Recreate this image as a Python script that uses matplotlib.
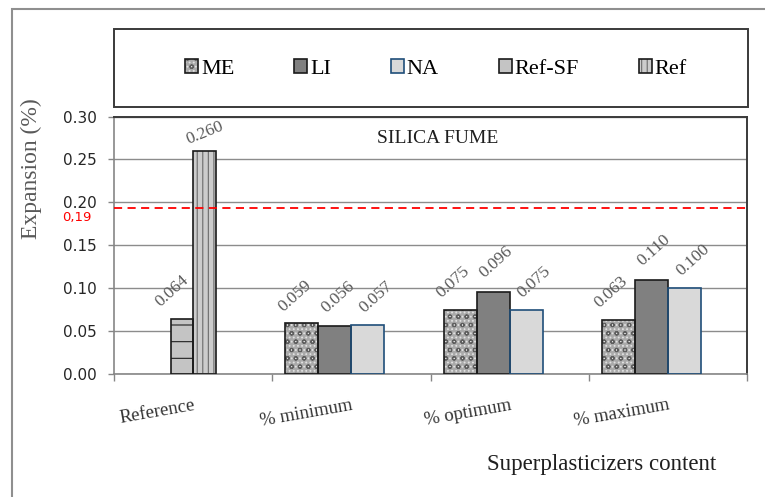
import matplotlib.pyplot as plt
from matplotlib.patches import Rectangle, Patch
from matplotlib.transforms import blended_transform_factory

categories = ['Reference', '% minimum', '% optimum', '% maximum']
ref_sf = [0.064]
ref = [0.260]
me = [0.059, 0.075, 0.063]
li = [0.056, 0.096, 0.110]
na = [0.057, 0.075, 0.100]
limit = 0.193
limit_label = '0,19'

plt.rcParams['hatch.linewidth'] = 0.8
serif = 'Liberation Serif'

fig = plt.figure(figsize=(7.65, 4.97), dpi=100)
ax = fig.add_axes([0.149, 0.2475, 0.8275, 0.518])

# outer frame and legend box (figure pixels)
fig.add_artist(Rectangle((12 / 765, -0.1), 1.2, 1.1 - 9 / 497, transform=fig.transFigure,
                         fill=False, edgecolor='#8f8f8f', lw=1.5, clip_on=False))
fig.add_artist(Rectangle((114 / 765, 1 - 107 / 497), 634 / 765, 78.5 / 497,
                         transform=fig.transFigure, fill=False, edgecolor='#3a3a3a', lw=1.4))

w3 = 0.2085
w2 = 0.14
styles = {
    'ME': dict(fc='#a9a9a9', hatch='....', hc='#e2e2e2', hatch2='oo', hc2='#5e5e5e', ec='#1a1a1a'),
    'LI': dict(fc='#808080', hatch=None, hc='#808080', ec='#1a1a1a'),
    'NA': dict(fc='#d9d9d9', hatch=None, hc='#d9d9d9', ec='#1f4e79'),
    'Ref-SF': dict(fc='#c4c4c4', hatch='-', hc='#202020', ec='#1a1a1a'),
    'Ref': dict(fc='#cccccc', hatch='|||', hc='#6a6a6a', ec='#1a1a1a'),
}

series = [
    ('Ref-SF', [0], ref_sf, -0.07, w2, -7, 20, 42),
    ('Ref', [0], ref, 0.072, w2, 0, 13, 22),
    ('ME', [1, 2, 3], me, -0.3125, w3, -5, 20, 42),
    ('LI', [1, 2, 3], li, -0.104, w3, 2, 21, 42),
    ('NA', [1, 2, 3], na, 0.104, w3, 6, 20, 42),
]

for name, idx, vals, off, w, dx, dy, rot in series:
    s = styles[name]
    xs = [i + off for i in idx]
    ax.bar(xs, vals, w, color=s['fc'], hatch=s['hatch'], edgecolor=s['hc'], lw=0, zorder=2)
    if 'hatch2' in s:
        ax.bar(xs, vals, w, fill=False, hatch=s['hatch2'], edgecolor=s['hc2'], lw=0, zorder=2)
    ax.bar(xs, vals, w, fill=False, edgecolor=s['ec'], lw=1.2, zorder=3)
    for x, v in zip(xs, vals):
        ax.annotate(f'{v:.3f}', xy=(x, v), xytext=(dx, dy), textcoords='offset points',
                    ha='center', va='center', rotation=rot, fontsize=12.5,
                    family=serif, color='#595959')

ax.axhline(limit, color='#ff0000', lw=1.3, ls=(0, (4.5, 3)), zorder=4)
ax.annotate(limit_label, xy=(0, limit), xycoords=('axes fraction', 'data'),
            xytext=(-16.5, -6.5), textcoords='offset points', ha='right', va='center',
            fontsize=9.5, color='#ff0000')

ax.set_xlim(-0.5, 3.5)
ax.set_ylim(0, 0.30)
ax.set_yticks([0, 0.05, 0.10, 0.15, 0.20, 0.25, 0.30])
ax.set_yticklabels([f'{t:.2f}' for t in ax.get_yticks()])
ax.set_xticks([-0.5, 0.5, 1.5, 2.5, 3.5])
ax.set_xticklabels([])
ax.tick_params(axis='y', length=4.3, width=1, color='#868686', pad=8, labelsize=11,
               labelcolor='#262626')
ax.tick_params(axis='x', length=5, width=1, color='#868686')
ax.yaxis.grid(True, color='#8c8c8c', lw=1)
ax.set_axisbelow(True)
for side in ['left', 'bottom']:
    ax.spines[side].set_color('#868686')
    ax.spines[side].set_linewidth(1.2)
for side in ['top', 'right']:
    ax.spines[side].set_color('#3a3a3a')
    ax.spines[side].set_linewidth(1.4)

tr = blended_transform_factory(ax.transData, ax.transAxes)
for i, c in enumerate(categories):
    ax.annotate(c, xy=(i, 0), xycoords=tr, xytext=(0, -16.5), textcoords='offset points',
                ha='right', va='top', rotation=10, rotation_mode='anchor',
                fontsize=13.5, family=serif, color='#333333')

ax.text(0.511, 0.915, 'SILICA FUME', transform=ax.transAxes, ha='center', va='center',
        fontsize=14, family=serif, color='#1f1f1f')

fig.text(0.0405, 0.66, 'Expansion (%)', rotation=90, ha='center', va='center',
         fontsize=17, family=serif, color='#595959')
fig.text(0.787, 0.066, 'Superplasticizers content', ha='center', va='center',
         fontsize=16.5, family=serif, color='#1f1f1f')

# legend
order = ['ME', 'LI', 'NA', 'Ref-SF', 'Ref']
handles = []
for name in order:
    s = styles[name]
    parts = [Patch(facecolor=s['fc'], hatch=s['hatch'], edgecolor=s['hc'], lw=0)]
    if 'hatch2' in s:
        parts.append(Patch(fill=False, hatch=s['hatch2'], edgecolor=s['hc2'], lw=0))
    parts.append(Patch(fill=False, edgecolor=s['ec'], lw=1.2))
    handles.append(tuple(parts))
fig.legend(handles, order, loc='center', bbox_to_anchor=(0.570, 0.861), ncol=5,
           frameon=False, prop={'family': serif, 'size': 16}, handlelength=0.59,
           handleheight=0.59, handletextpad=0.12, columnspacing=2.7, borderpad=0)

fig.savefig('out.png', dpi=100)
